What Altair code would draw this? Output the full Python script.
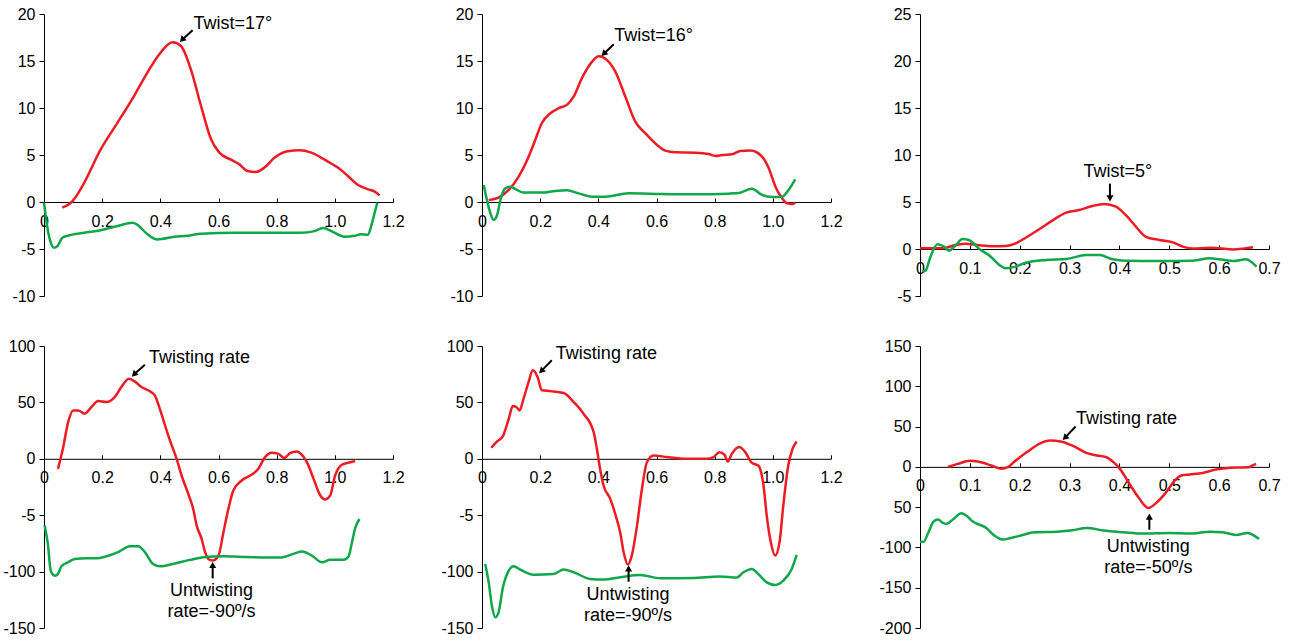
import altair as alt
import pandas as pd

RED = "#ED1C24"
GREEN = "#10A64A"
FONT = "Liberation Sans, Arial"

# ---------------- Panel 1 (twist, top-left) ----------------
P1_RED_X = [0.063, 0.098, 0.132, 0.195, 0.253, 0.31, 0.356, 0.396, 0.442, 0.471, 0.505, 0.54, 0.574, 0.603,
            0.643, 0.672, 0.70, 0.729, 0.758, 0.792, 0.838, 0.878, 0.919, 0.965, 1.01, 1.045, 1.08, 1.114,
            1.137, 1.154]
P1_RED_Y = [-0.6, 0.1, 1.7, 5.6, 8.45, 11.3, 13.8, 15.7, 17.0, 16.6, 14.1, 10.2, 6.7, 5.25, 4.5, 4.0, 3.3,
            3.2, 3.66, 4.7, 5.4, 5.5, 5.25, 4.5, 3.66, 2.77, 1.8, 1.35, 1.1, 0.7]
P1_GREEN_X = [0, 0.011, 0.023, 0.034, 0.046, 0.063, 0.08, 0.138, 0.195, 0.253, 0.304, 0.32, 0.356, 0.39,
              0.448, 0.494, 0.54, 0.655, 0.77, 0.884, 0.93, 0.959, 0.982, 1.034, 1.068, 1.091, 1.114, 1.125,
              1.137, 1.146]
P1_GREEN_Y = [-0.07, -2.6, -4.3, -4.86, -4.7, -3.8, -3.6, -3.27, -3.0, -2.55, -2.2, -2.4, -3.44, -3.98, -3.7,
              -3.6, -3.37, -3.27, -3.27, -3.27, -3.1, -2.77, -3.0, -3.7, -3.6, -3.44, -3.48, -2.55, -1.14, -0.07]

# ---------------- Panel 2 (twist, top-middle) ----------------
P2_RED_X = [0.023, 0.057, 0.092, 0.126, 0.16, 0.183, 0.206, 0.235, 0.264, 0.292, 0.315, 0.344, 0.378, 0.401,
            0.43, 0.458, 0.493, 0.527, 0.562, 0.602, 0.63, 0.665, 0.734, 0.779, 0.802, 0.825, 0.86, 0.888,
            0.923, 0.963, 0.986, 1.009, 1.032, 1.049, 1.066, 1.077]
P2_RED_Y = [0.2, 0.46, 1.28, 2.7, 4.8, 6.6, 8.4, 9.44, 9.98, 10.33, 11.2, 13.2, 14.9, 15.5, 15.1, 13.9, 11.2,
            8.55, 7.3, 6.07, 5.47, 5.29, 5.25, 5.11, 4.9, 5.0, 5.08, 5.43, 5.47, 4.83, 3.6, 1.63, 0.39, -0.14,
            -0.21, -0.04]
P2_GREEN_X = [0.006, 0.017, 0.029, 0.04, 0.052, 0.063, 0.08, 0.097, 0.115, 0.143, 0.206, 0.252, 0.292, 0.332,
              0.378, 0.424, 0.504, 0.619, 0.734, 0.848, 0.883, 0.928, 0.963, 0.997, 1.032, 1.054, 1.077]
P2_GREEN_Y = [1.8, 0.2, -1.2, -1.9, -1.38, 0.2, 1.45, 1.63, 1.38, 1.0, 1.0, 1.17, 1.24, 0.92, 0.57, 0.57,
              0.92, 0.85, 0.82, 0.89, 0.96, 1.42, 0.75, 0.53, 0.57, 1.28, 2.41]

# ---------------- Panel 3 (twist, top-right) ----------------
P3_RED_X = [0, 0.045, 0.072, 0.092, 0.119, 0.145, 0.172, 0.192, 0.212, 0.239, 0.266, 0.293, 0.319, 0.346,
            0.37, 0.393, 0.413, 0.433, 0.453, 0.48, 0.507, 0.527, 0.547, 0.581, 0.601, 0.628, 0.648, 0.668]
P3_RED_Y = [0.07, 0.07, 0.43, 0.57, 0.39, 0.28, 0.32, 0.6, 1.2, 2.1, 3.05, 3.87, 4.15, 4.58, 4.79, 4.5, 3.6,
            2.38, 1.3, 0.96, 0.71, 0.25, 0.04, 0.14, 0.07, -0.04, 0.04, 0.18]
P3_GREEN_X = [0.005, 0.011, 0.021, 0.035, 0.048, 0.058, 0.072, 0.085, 0.098, 0.119, 0.142, 0.159, 0.172,
              0.192, 0.212, 0.253, 0.293, 0.333, 0.36, 0.387, 0.413, 0.48, 0.547, 0.581, 0.601, 0.628, 0.654,
              0.664, 0.675]
P3_GREEN_Y = [-2.4, -2.3, -0.82, 0.5, 0.25, -0.18, 0.43, 1.07, 0.96, 0, -0.82, -1.7, -2.06, -1.88, -1.46,
              -1.17, -1.07, -0.64, -0.64, -1.1, -1.24, -1.28, -1.24, -0.99, -1.1, -1.28, -1.1, -1.35, -1.88]

# ---------------- Panel 4 (rate, bottom-left) ----------------
P4_RED_X = [0.048, 0.065, 0.083, 0.1, 0.117, 0.14, 0.163, 0.186, 0.215, 0.243, 0.266, 0.292, 0.312, 0.335,
            0.364, 0.381, 0.398, 0.416, 0.433, 0.456, 0.473, 0.496, 0.513, 0.525, 0.542, 0.554, 0.565, 0.58,
            0.6, 0.617, 0.634, 0.651, 0.68, 0.709, 0.737, 0.76, 0.783, 0.806, 0.826, 0.846, 0.869, 0.887,
            0.904, 0.927, 0.95, 0.967, 0.984, 1.001, 1.024, 1.053, 1.07]
P4_RED_Y = [-8.9, 8.9, 32.5, 42.9, 42.9, 40, 45.9, 51.2, 50.3, 54.7, 63.6, 71, 68.6, 63.6, 59.8, 56.2, 44.4,
            29.6, 16.3, 0, -14.8, -31, -44.4, -59.2, -71, -82.8, -88.8, -90.2, -85.8, -65.1, -44.4, -28.1,
            -19.2, -14.8, -8.9, 1.5, 5.3, 4.4, 0.6, 5, 6.5, 3.5, -3, -17.8, -32.5, -36.1, -32.5, -14.8, -5.3,
            -3, -2]
P4_GREEN_X = [0.002, 0.014, 0.023, 0.037, 0.048, 0.06, 0.083, 0.106, 0.146, 0.18, 0.215, 0.255, 0.295, 0.324,
              0.347, 0.375, 0.398, 0.444, 0.502, 0.548, 0.617, 0.697, 0.812, 0.858, 0.887, 0.921, 0.956, 0.984,
              1.03, 1.047, 1.059, 1.07, 1.085]
P4_GREEN_Y = [-59.2, -76.9, -99.1, -103.6, -102, -95.3, -91.7, -88.8, -88.2, -88.2, -86.4, -82.8, -77.5,
              -77.5, -82.8, -93.2, -95.3, -93.2, -89.6, -87.3, -86.4, -87, -87.6, -84.3, -82.2, -85.8, -91.7,
              -89.6, -89.6, -86.7, -74, -61.5, -53.3]

# ---------------- Panel 5 (rate, bottom-middle) ----------------
P5_RED_X = [0.032, 0.052, 0.072, 0.092, 0.106, 0.118, 0.129, 0.143, 0.16, 0.175, 0.191, 0.206, 0.235, 0.281,
            0.315, 0.349, 0.384, 0.395, 0.404, 0.418, 0.441, 0.458, 0.475, 0.487, 0.502, 0.515, 0.533, 0.55,
            0.567, 0.59, 0.636, 0.704, 0.773, 0.796, 0.816, 0.834, 0.845, 0.859, 0.885, 0.905, 0.928, 0.95,
            0.968, 0.979, 0.993, 1.008, 1.023, 1.036, 1.053, 1.068, 1.082]
P5_RED_Y = [9.8, 15.4, 20.1, 35.5, 46.7, 45.9, 42.9, 53.3, 68, 78.4, 72.5, 60.7, 60, 58.3, 50.3, 40, 23.7,
            8.9, -5.9, -23.7, -35.5, -48.8, -65.1, -82.8, -93.8, -85.8, -59.2, -26.6, -3, 3, 1.5, 0, 0, 1.5,
            5.9, 3.6, -2.4, 4.4, 10.4, 5.9, -3.6, -5.9, -23.7, -50.3, -74, -85.8, -74, -41.4, -5.9, 8.9, 15.4]
P5_GREEN_X = [0.011, 0.023, 0.034, 0.046, 0.057, 0.072, 0.092, 0.109, 0.132, 0.177, 0.246, 0.281, 0.315,
              0.372, 0.418, 0.475, 0.544, 0.613, 0.727, 0.819, 0.876, 0.899, 0.928, 0.95, 0.979, 1.008, 1.036,
              1.065, 1.082]
P5_GREEN_Y = [-93.2, -109.5, -130.2, -140.5, -136.1, -113.9, -99.1, -95.3, -98.2, -102.7, -102.1, -98.2,
              -100.6, -106.5, -107.1, -105, -103, -105.9, -105.6, -104.4, -105.3, -100.6, -97.6, -102.1,
              -109.5, -111.8, -108, -97.6, -85.2]

# ---------------- Panel 6 (rate, bottom-right) ----------------
P6_RED_X = [0.056, 0.076, 0.1, 0.116, 0.143, 0.163, 0.176, 0.192, 0.216, 0.239, 0.262, 0.282, 0.308, 0.335,
            0.355, 0.375, 0.388, 0.401, 0.418, 0.438, 0.458, 0.474, 0.491, 0.511, 0.524, 0.541, 0.567, 0.594,
            0.614, 0.64, 0.66, 0.667, 0.674]
P6_RED_Y = [0, 3.7, 7.5, 6.6, 1.7, -2.5, -0.4, 7.9, 19, 28.6, 32.7, 31.5, 25.7, 17, 14.1, 11.6, 5.8, -2.5,
            -19, -37.7, -51, -44.7, -33.6, -17, -10.8, -9.5, -7.5, -3.3, -1.7, -0.8, -0.4, 1.7, 3.7]
P6_GREEN_X = [0, 0.007, 0.017, 0.027, 0.036, 0.046, 0.053, 0.066, 0.083, 0.093, 0.106, 0.133, 0.149, 0.166,
              0.182, 0.202, 0.229, 0.275, 0.302, 0.335, 0.368, 0.408, 0.448, 0.501, 0.547, 0.581, 0.607, 0.634,
              0.657, 0.67, 0.68]
P6_GREEN_Y = [-92.8, -92.8, -81.2, -67.9, -65.4, -69.6, -70.8, -65.4, -57.6, -60.5, -67.9, -75.8, -85.3,
              -90.3, -88.2, -85.3, -81.2, -80.4, -79.1, -75.8, -79.1, -81.2, -82.8, -82, -82.8, -80.4, -81.2,
              -84.5, -82, -85.3, -89.5]

# ---------------- Axes ----------------
X_TICKS_LONG = [0, 0.2, 0.4, 0.6, 0.8, 1.0, 1.2]
X_TICKS_SHORT = [0, 0.1, 0.2, 0.3, 0.4, 0.5, 0.6, 0.7]
Y_TICKS_1 = [-10, -5, 0, 5, 10, 15, 20]
Y_TICKS_3 = [-5, 0, 5, 10, 15, 20, 25]
Y_TICKS_4 = [-150, -100, -50, 0, 50, 100]
Y_TICKS_6 = [-200, -150, -100, -50, 0, 50, 100, 150]

# ---------------- Annotations ----------------
# arrows: start x, start y, end x, end y, head angle
P1_ARROWS = {"x1": [0.511], "y1": [18.28], "x2": [0.477], "y2": [17.32], "a": [225]}
P2_ARROWS = {"x1": [0.453], "y1": [16.79], "x2": [0.421], "y2": [15.83], "a": [225]}
P3_ARROWS = {"x1": [0.381], "y1": [6.95], "x2": [0.381], "y2": [5.5], "a": [180]}
P4_ARROWS = {"x1": [0.347, 0.58], "y1": [83.4, -106], "x2": [0.312, 0.58], "y2": [75.4, -95], "a": [225, 0]}
P5_ARROWS = {"x1": [0.24, 0.504], "y1": [87.3, -109], "x2": [0.206, 0.504], "y2": [78.4, -98], "a": [225, 0]}
P6_ARROWS = {"x1": [0.312, 0.46], "y1": [50.1, -78], "x2": [0.292, 0.46], "y2": [36.9, -63], "a": [225, 0]}

P1_TEXTS = {"x": [0.514], "y": [18.9], "t": ["Twist=17°"], "al": ["left"]}
P2_TEXTS = {"x": [0.455], "y": [17.68], "t": ["Twist=16°"], "al": ["left"]}
P3_TEXTS = {"x": [0.397], "y": [8.16], "t": ["Twist=5°"], "al": ["center"]}
P4_TEXTS = {"x": [0.361, 0.576], "y": [89.3, -117.5], "t": ["Twisting rate", "Untwisting\nrate=-90º/s"],
            "al": ["left", "center"]}
P5_TEXTS = {"x": [0.254, 0.502], "y": [93.2, -120.7], "t": ["Twisting rate", "Untwisting\nrate=-90º/s"],
            "al": ["left", "center"]}
P6_TEXTS = {"x": [0.313, 0.458], "y": [58.8, -99.8], "t": ["Twisting rate", "Untwisting\nrate=-50º/s"],
            "al": ["left", "center"]}

W = 349
H = 282


def panel(rx, ry, gx, gy, xdom, xticks, ydom, yticks, ylab, arrows, texts):
    df = pd.DataFrame({
        "x": list(rx) + list(gx),
        "y": list(ry) + list(gy),
        "s": ["red"] * len(rx) + ["green"] * len(gx),
    })
    y0 = H * ydom[1] / (ydom[1] - ydom[0])
    xs = alt.Scale(domain=xdom, nice=False, zero=False)
    ys = alt.Scale(domain=ydom, nice=False, zero=False)
    x_axis = alt.Axis(orient="top", offset=-y0, values=xticks, title=None, grid=False,
                      labelExpr="datum.value == 0 ? '0' : format(datum.value, '.1f')",
                      tickSize=4, labelPadding=-15, labelBaseline="top", labelAlign="center",
                      labelFlush=False, labelOverlap=False, labelFont=FONT, labelFontSize=16,
                      labelColor="black", domainColor="black", tickColor="black")
    y_axis = alt.Axis(values=yticks, title=None, grid=False, labelExpr=ylab,
                      tickSize=5, labelPadding=4, labelFlush=False, labelOverlap=False,
                      labelFont=FONT, labelFontSize=16, labelColor="black",
                      domainColor="black", tickColor="black", minExtent=44)
    lines = alt.Chart(df).mark_line(strokeWidth=2.5, interpolate="monotone").encode(
        x=alt.X("x:Q", scale=xs, axis=x_axis),
        y=alt.Y("y:Q", scale=ys, axis=y_axis),
        color=alt.Color("s:N", scale=alt.Scale(domain=["red", "green"], range=[RED, GREEN]), legend=None),
    )
    adf = pd.DataFrame(arrows)
    shafts = alt.Chart(adf).mark_rule(strokeWidth=2, color="black").encode(
        x="x1:Q", y="y1:Q", x2="x2:Q", y2="y2:Q")
    heads = alt.Chart(adf).mark_point(shape="triangle", filled=True, color="black", size=50,
                                      opacity=1).encode(
        x="x2:Q", y="y2:Q", angle=alt.Angle("a:Q", scale=None))
    tdf = pd.DataFrame(texts)
    layers = [lines, shafts, heads]
    for al in ["left", "center"]:
        sub = tdf[tdf["al"] == al]
        if len(sub):
            layers.append(alt.Chart(sub).mark_text(font=FONT, fontSize=18, align=al, baseline="middle",
                                                   lineBreak="\n", lineHeight=21, color="black").encode(
                x="x:Q", y="y:Q", text="t:N"))
    return alt.layer(*layers).properties(width=W, height=H)


Y_PLAIN = "'' + datum.value"
p1 = panel(P1_RED_X, P1_RED_Y, P1_GREEN_X, P1_GREEN_Y, [0, 1.2], X_TICKS_LONG, [-10, 20], Y_TICKS_1,
           Y_PLAIN, P1_ARROWS, P1_TEXTS)
p2 = panel(P2_RED_X, P2_RED_Y, P2_GREEN_X, P2_GREEN_Y, [0, 1.2], X_TICKS_LONG, [-10, 20], Y_TICKS_1,
           Y_PLAIN, P2_ARROWS, P2_TEXTS)
p3 = panel(P3_RED_X, P3_RED_Y, P3_GREEN_X, P3_GREEN_Y, [0, 0.7], X_TICKS_SHORT, [-5, 25], Y_TICKS_3,
           Y_PLAIN, P3_ARROWS, P3_TEXTS)
p4 = panel(P4_RED_X, P4_RED_Y, P4_GREEN_X, P4_GREEN_Y, [0, 1.2], X_TICKS_LONG, [-150, 100], Y_TICKS_4,
           "datum.value == -50 ? '-5' : '' + datum.value", P4_ARROWS, P4_TEXTS)
p5 = panel(P5_RED_X, P5_RED_Y, P5_GREEN_X, P5_GREEN_Y, [0, 1.2], X_TICKS_LONG, [-150, 100], Y_TICKS_4,
           "datum.value == -50 ? '-5' : '' + datum.value", P5_ARROWS, P5_TEXTS)
p6 = panel(P6_RED_X, P6_RED_Y, P6_GREEN_X, P6_GREEN_Y, [0, 0.7], X_TICKS_SHORT, [-200, 150], Y_TICKS_6,
           "datum.value == -50 ? '50' : '' + datum.value", P6_ARROWS, P6_TEXTS)

chart = alt.concat(p1, p2, p3, p4, p5, p6, columns=3, spacing={"row": 50, "column": 89},
                   bounds="flush").properties(
    padding={"left": 0, "top": 6, "right": 5, "bottom": 0}
).configure(background="white", view=alt.ViewConfig(strokeWidth=0, strokeOpacity=0))

chart.save("out.html", embed_options={"renderer": "svg", "actions": False})
